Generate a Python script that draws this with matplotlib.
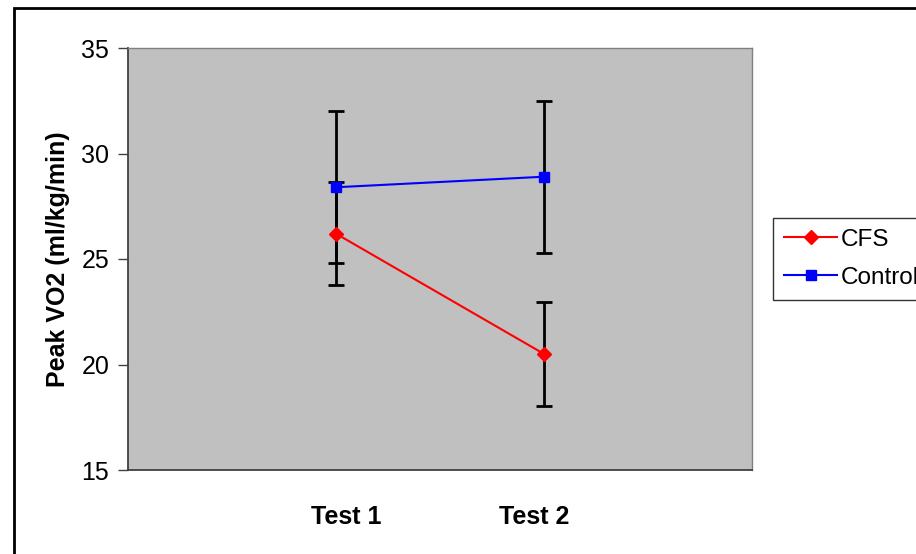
import matplotlib
matplotlib.use("Agg")
import matplotlib.pyplot as plt
import matplotlib.transforms as mtransforms
from matplotlib.patches import Rectangle

# data
tests = ["Test 1", "Test 2"]
cfs_mean = [26.2, 20.5]
cfs_err = [2.45, 2.45]
control_mean = [28.4, 28.9]
control_err = [3.6, 3.6]

plt.rcParams['font.family'] = ['Liberation Sans', 'DejaVu Sans']

fig = plt.figure(figsize=(9.16, 5.54), dpi=100)
ax = fig.add_axes([128/916, 84/554, 624/916, 422/554])
ax.set_facecolor('#C0C0C0')

x = [1, 2]

# error bars first so the markers sit on top
ax.errorbar(x, control_mean, yerr=control_err, fmt='none', ecolor='black',
            elinewidth=2, capsize=5.5, capthick=2, zorder=2)
ax.errorbar(x, cfs_mean, yerr=cfs_err, fmt='none', ecolor='black',
            elinewidth=2, capsize=5.5, capthick=2, zorder=2)

ax.plot(x, cfs_mean, color='red', marker='D', markersize=7, lw=1.5,
        label='CFS', zorder=3)
ax.plot(x, control_mean, color='blue', marker='s', markersize=7.5, lw=1.5,
        label='Control', zorder=3)

ax.set_xlim(0, 3)
ax.set_ylim(15, 35)
ax.set_yticks([15, 20, 25, 30, 35])
ax.set_xticks(x)
ax.set_xticklabels(tests, fontweight='bold')
ax.tick_params(axis='x', length=0, pad=25, labelsize=18)
ax.tick_params(axis='y', length=7, width=1, color='#404040', labelsize=18, pad=6.5)
ax.set_ylabel('Peak VO2 (ml/kg/min)', fontsize=18, fontweight='bold', labelpad=8)

# category labels sit a little inward of the points in the original
for lbl, dx in zip(ax.get_xticklabels(), [10, -10]):
    lbl.set_transform(lbl.get_transform() +
                      mtransforms.ScaledTranslation(dx/100, 0, fig.dpi_scale_trans))

for s in ['top', 'right']:
    ax.spines[s].set_color('#808080')
    ax.spines[s].set_linewidth(1)
for s in ['left', 'bottom']:
    ax.spines[s].set_color('#404040')
    ax.spines[s].set_linewidth(1.3)

leg = fig.legend(loc='upper left', bbox_to_anchor=(773/916, 1 - 218/554),
                 fontsize=17.5, frameon=True, fancybox=False, handlelength=2.2,
                 handletextpad=0.12, labelspacing=0.65, borderpad=0.45,
                 borderaxespad=0)
leg.get_frame().set_edgecolor('black')
leg.get_frame().set_linewidth(1)

# outer chart border
fig.patches.append(Rectangle((14/916, -0.1), 1.2, 1 - 8/554 + 0.1,
                             transform=fig.transFigure, fill=False,
                             edgecolor='black', linewidth=2))

fig.savefig('out.png', dpi=100)
